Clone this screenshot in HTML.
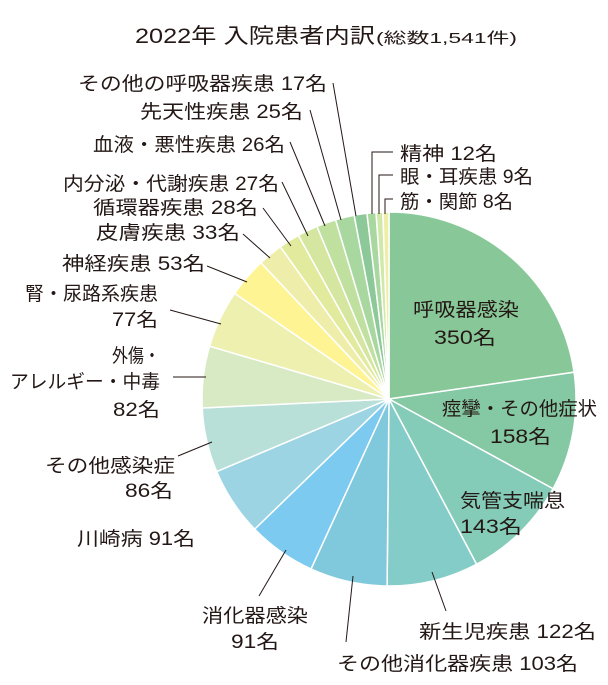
<!DOCTYPE html>
<html><head><meta charset="utf-8"><style>
html,body{margin:0;padding:0;background:#fff;}
svg{display:block;font-family:"Liberation Sans","Noto Sans CJK JP",sans-serif;}
text{fill:#231815;font-size:19px;}
</style></head><body>
<svg id="s" width="608" height="685" viewBox="0 0 608 685" xmlns="http://www.w3.org/2000/svg">
<g id="pie"></g>
<g stroke="#231815" stroke-width="1" fill="none">
<line x1="333" y1="83" x2="356" y2="216"/>
<line x1="310" y1="110" x2="341" y2="220"/>
<line x1="290" y1="142" x2="325" y2="226"/>
<line x1="282" y1="182" x2="308" y2="236"/>
<line x1="263" y1="208" x2="291" y2="246"/>
<line x1="243" y1="234" x2="270" y2="258"/>
<line x1="207" y1="266" x2="247" y2="282"/>
<line x1="170" y1="310" x2="221" y2="324"/>
<line x1="173" y1="377" x2="206" y2="377"/>
<line x1="178" y1="456" x2="212" y2="442"/>
<line x1="259" y1="596" x2="286" y2="550"/>
<line x1="346" y1="642" x2="353" y2="576"/>
<line x1="446" y1="611" x2="432" y2="572"/>
<polyline points="372,214 372,152 393,152"/>
<polyline points="379,214 379,175 393,175"/>
<polyline points="385,214 385,199 393,199"/>
</g>
<text x="135" y="43" style="font-size:21px" textLength="240" lengthAdjust="spacingAndGlyphs">2022年 入院患者内訳</text>
<text x="376" y="43" style="font-size:15px" textLength="141" lengthAdjust="spacingAndGlyphs">(総数1,541件)</text>
<text x="78" y="90" textLength="249" lengthAdjust="spacingAndGlyphs">その他の呼吸器疾患 17名</text>
<text x="140" y="118" textLength="163" lengthAdjust="spacingAndGlyphs">先天性疾患 25名</text>
<text x="93" y="151" textLength="192" lengthAdjust="spacingAndGlyphs">血液・悪性疾患 26名</text>
<text x="63" y="190" textLength="216" lengthAdjust="spacingAndGlyphs">内分泌・代謝疾患 27名</text>
<text x="93" y="214" textLength="165" lengthAdjust="spacingAndGlyphs">循環器疾患 28名</text>
<text x="96" y="239" textLength="144" lengthAdjust="spacingAndGlyphs">皮膚疾患 33名</text>
<text x="62" y="270" textLength="143" lengthAdjust="spacingAndGlyphs">神経疾患 53名</text>
<text x="25" y="300" textLength="133" lengthAdjust="spacingAndGlyphs">腎・尿路系疾患</text>
<text x="112" y="326" textLength="46" lengthAdjust="spacingAndGlyphs">77名</text>
<text x="112" y="362" textLength="48" lengthAdjust="spacingAndGlyphs">外傷・</text>
<text x="10" y="388" textLength="150" lengthAdjust="spacingAndGlyphs">アレルギー・中毒</text>
<text x="113" y="416" textLength="47" lengthAdjust="spacingAndGlyphs">82名</text>
<text x="45" y="472" textLength="130" lengthAdjust="spacingAndGlyphs">その他感染症</text>
<text x="125" y="497" textLength="48" lengthAdjust="spacingAndGlyphs">86名</text>
<text x="77" y="545" textLength="118" lengthAdjust="spacingAndGlyphs">川崎病 91名</text>
<text x="202" y="622" textLength="106" lengthAdjust="spacingAndGlyphs">消化器感染</text>
<text x="231" y="648" textLength="48" lengthAdjust="spacingAndGlyphs">91名</text>
<text x="337" y="670" textLength="241" lengthAdjust="spacingAndGlyphs">その他消化器疾患 103名</text>
<text x="419" y="638" textLength="177" lengthAdjust="spacingAndGlyphs">新生児疾患 122名</text>
<text x="460" y="507" textLength="105" lengthAdjust="spacingAndGlyphs">気管支喘息</text>
<text x="460" y="533" textLength="62" lengthAdjust="spacingAndGlyphs">143名</text>
<text x="442" y="415" textLength="155" lengthAdjust="spacingAndGlyphs">痙攣・その他症状</text>
<text x="490" y="443" textLength="61" lengthAdjust="spacingAndGlyphs">158名</text>
<text x="413" y="316" textLength="106" lengthAdjust="spacingAndGlyphs">呼吸器感染</text>
<text x="434" y="344" textLength="62" lengthAdjust="spacingAndGlyphs">350名</text>
<text x="400" y="160" textLength="97" lengthAdjust="spacingAndGlyphs">精神 12名</text>
<text x="400" y="183" textLength="133" lengthAdjust="spacingAndGlyphs">眼・耳疾患 9名</text>
<text x="400" y="208" textLength="113" lengthAdjust="spacingAndGlyphs">筋・関節 8名</text>
</svg>
<script>
var d=[[350,"#88c898"],[158,"#84c8a4"],[143,"#84ccb8"],[122,"#84ccc8"],[103,"#80c8dc"],[91,"#7ccaf0"],[91,"#9cd4e4"],[86,"#b8e0d8"],[82,"#d8eac4"],[77,"#eef0b0"],[53,"#fff494"],[33,"#eeeeaa"],[28,"#e2ea9e"],[27,"#d4e6a0"],[26,"#c0e0a0"],[25,"#a8d8a0"],[17,"#8cc898"],[12,"#a8d8a0"],[9,"#d0e8a8"],[8,"#eeeea8"]];
var cx=389,cy=399,r=187,t=1541,a=0,g=document.getElementById("pie"),h="";
d.forEach(function(e){var a0=a/t*2*Math.PI,a1=(a+e[0])/t*2*Math.PI;a+=e[0];
var x0=cx+r*Math.sin(a0),y0=cy-r*Math.cos(a0),x1=cx+r*Math.sin(a1),y1=cy-r*Math.cos(a1);
h+='<path d="M'+cx+','+cy+'L'+x0.toFixed(2)+','+y0.toFixed(2)+'A'+r+','+r+' 0 '+((a1-a0)>Math.PI?1:0)+' 1 '+x1.toFixed(2)+','+y1.toFixed(2)+'Z" fill="'+e[1]+'" stroke="#fff" stroke-width="1.5"/>';});
g.innerHTML=h;
</script>
</body></html>
